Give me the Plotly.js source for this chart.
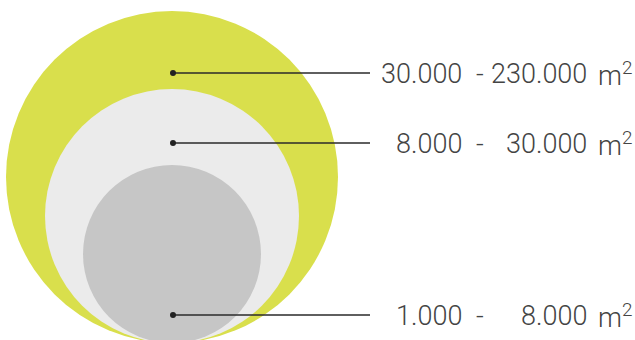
<!DOCTYPE html>
<html>
<head>
<meta charset="utf-8">
<script src="https://cdn.plot.ly/plotly-3.0.1.min.js"></script>
<style>html,body{margin:0;padding:0;background:#fff;}#chart{width:635px;height:340px;}</style>
</head>
<body>
<div id="chart"></div>
<script>
// Data
var categories = ["large", "medium", "small"];
var lowerBounds = ["30.000", "8.000", "1.000"];
var upperBounds = ["230.000", "30.000", "8.000"];
var unitLabel = "m<sup>2</sup>";

// Visual layout (pixel-space coordinates on a 635x340 canvas)
var circleColors = ["#d9df4c", "#ebebeb", "#c6c6c6"];
var circleCx = 172;
var circleBottom = 343;
var circleRadii = [166, 127, 89];
var markerY = [73, 143, 315];
var markerX = 173;
var lineEndX = 370;

var shapes = [];
for (var i = 0; i < categories.length; i++) {
  var r = circleRadii[i];
  shapes.push({
    type: "circle", xref: "x", yref: "y", layer: "below",
    x0: circleCx - r, x1: circleCx + r,
    y0: circleBottom - 2 * r, y1: circleBottom,
    fillcolor: circleColors[i], line: {width: 0}
  });
}

var traces = [];
for (var j = 0; j < categories.length; j++) {
  traces.push({
    type: "scatter", mode: "lines",
    x: [markerX, lineEndX], y: [markerY[j], markerY[j]],
    line: {color: "#2a2a2a", width: 1.5},
    hoverinfo: "skip", showlegend: false
  });
}
traces.push({
  type: "scatter", mode: "markers",
  x: categories.map(function(){return markerX;}), y: markerY,
  marker: {color: "#222", size: 6},
  hoverinfo: "skip", showlegend: false
});

var font = {family: "Roboto, 'Open Sans', sans-serif", size: 27, color: "#444", weight: 300};
var annotations = [];
for (var k = 0; k < categories.length; k++) {
  var yy = markerY[k] + 1;
  annotations.push({x: 464, y: yy, xref: "x", yref: "y", text: lowerBounds[k], showarrow: false, xanchor: "right", yanchor: "middle", font: font});
  annotations.push({x: 480, y: yy, xref: "x", yref: "y", text: "-", showarrow: false, xanchor: "center", yanchor: "middle", font: font});
  annotations.push({x: 589, y: yy, xref: "x", yref: "y", text: upperBounds[k], showarrow: false, xanchor: "right", yanchor: "middle", font: font});
  annotations.push({x: 596, y: yy, xref: "x", yref: "y", text: unitLabel, showarrow: false, xanchor: "left", yanchor: "middle", font: font});
}

var layout = {
  width: 635, height: 340,
  margin: {l: 0, r: 0, t: 0, b: 0},
  paper_bgcolor: "#fff", plot_bgcolor: "#fff",
  xaxis: {range: [0, 635], visible: false, fixedrange: true},
  yaxis: {range: [340, 0], visible: false, fixedrange: true},
  shapes: shapes,
  annotations: annotations,
  showlegend: false
};

Plotly.newPlot("chart", traces, layout, {staticPlot: true, displayModeBar: false});
</script>
</body>
</html>
